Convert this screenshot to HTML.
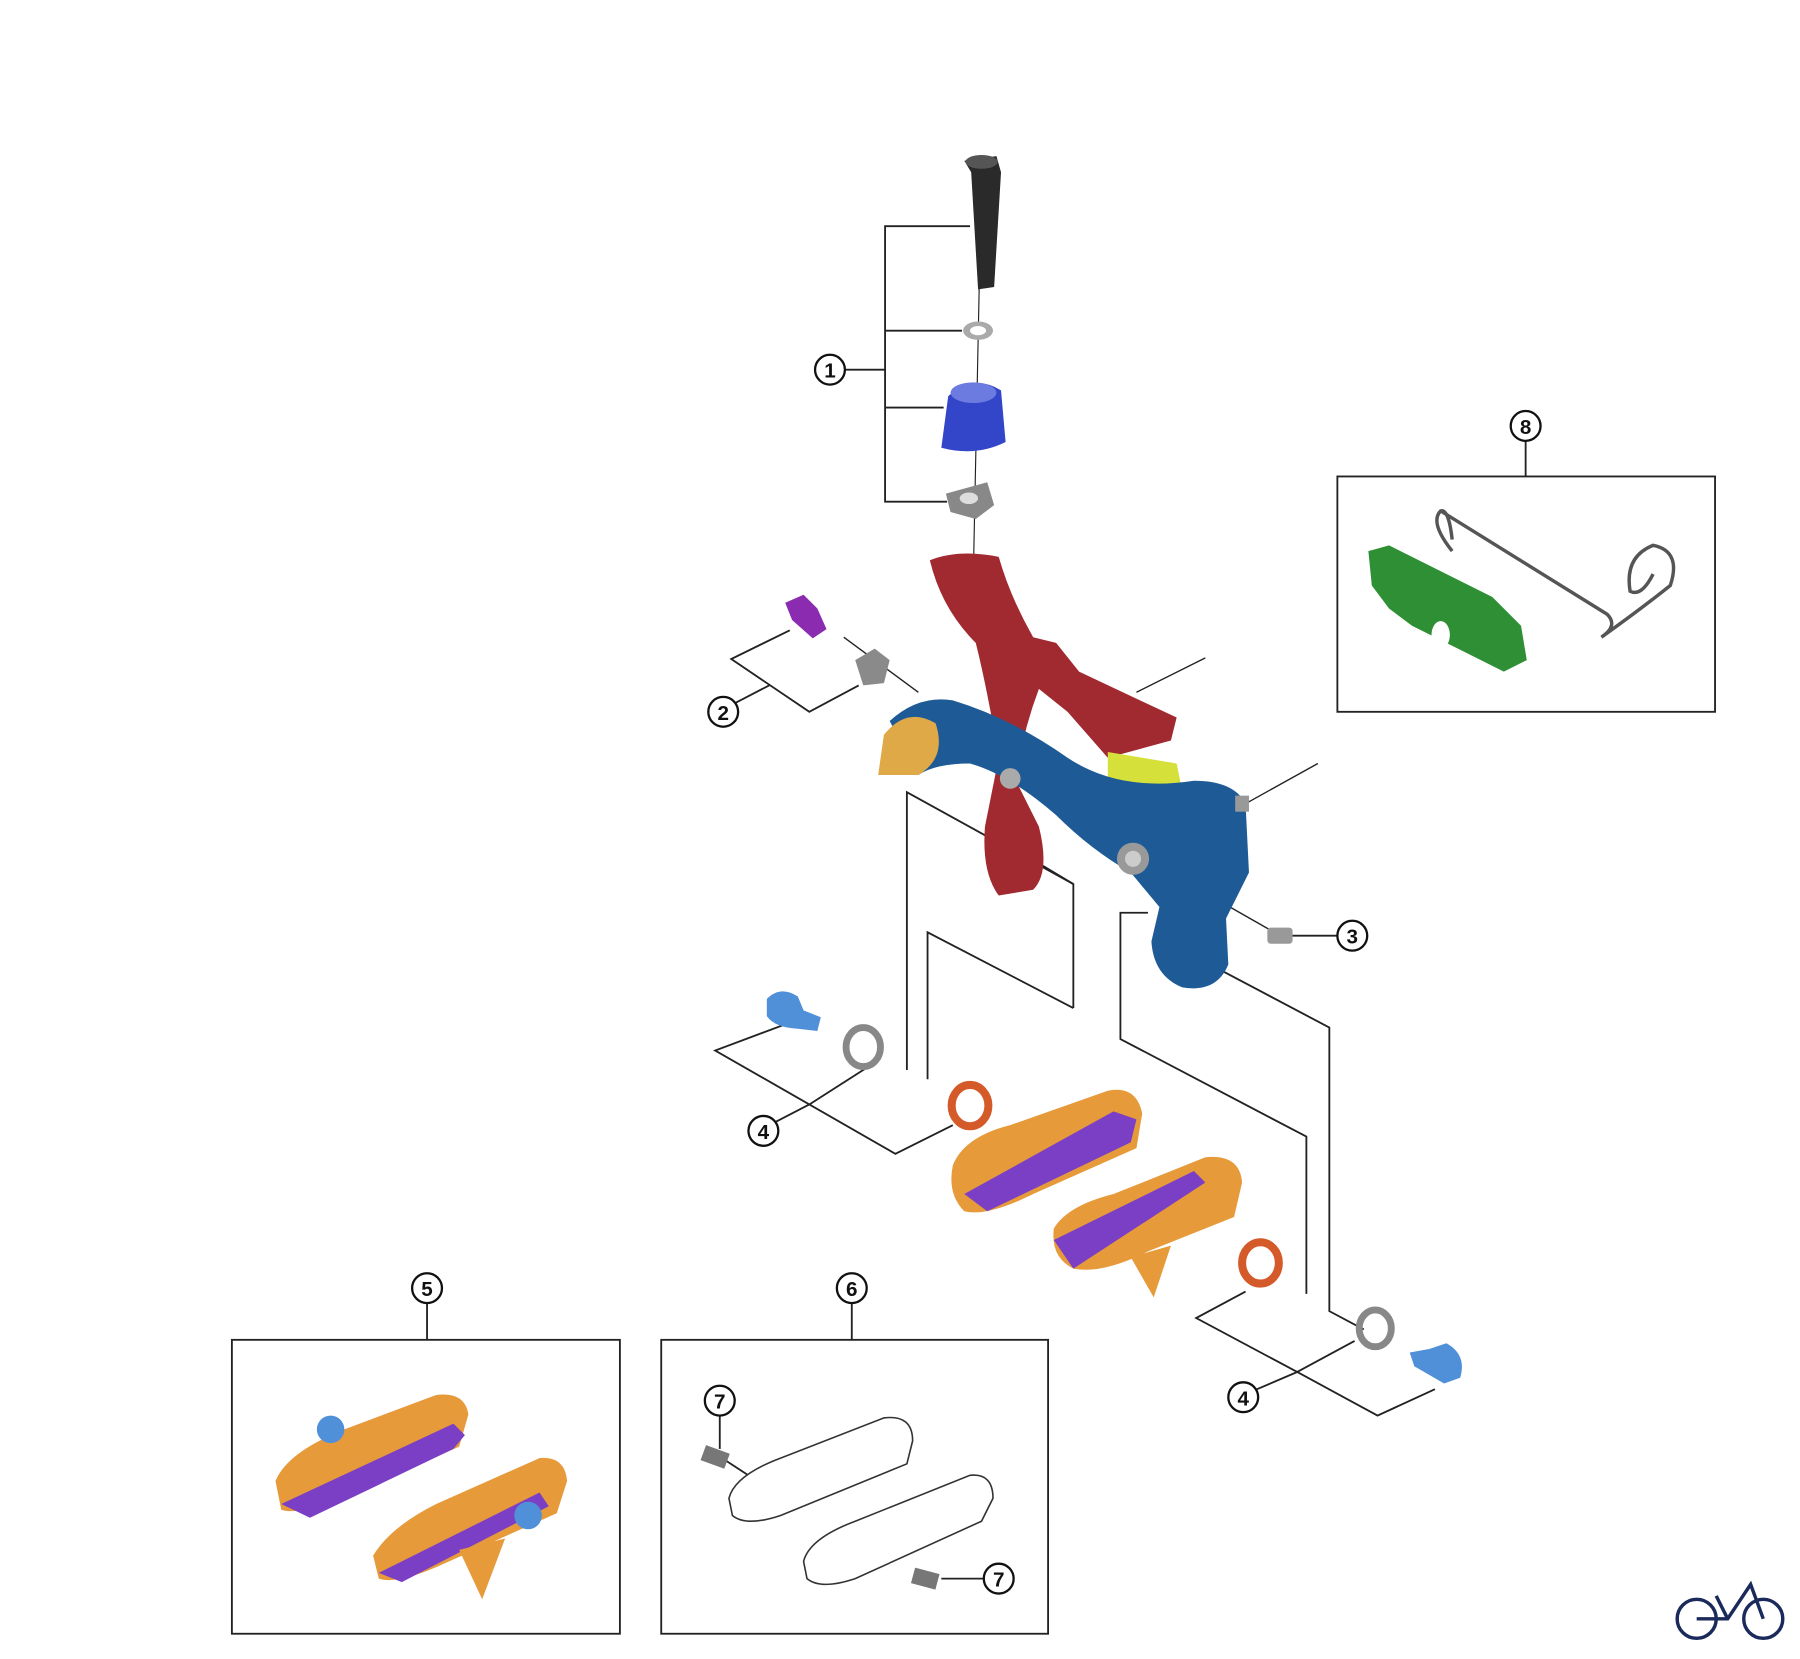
<!DOCTYPE html>
<html><head><meta charset="utf-8"><style>
html,body{margin:0;padding:0;background:#fff;}
svg{display:block;}
text{font-family:"Liberation Sans",sans-serif;font-weight:bold;}
</style></head><body>
<svg width="1800" height="1659" viewBox="0 0 1568 1445" preserveAspectRatio="none" xmlns="http://www.w3.org/2000/svg">
<rect width="1568" height="1445" fill="#fff"/>
<g fill="none" stroke="#222" stroke-width="1.6">
<!-- 1 bracket -->
<polyline points="845,197 771,197 771,437 825,437"/>
<line x1="771" y1="288" x2="838" y2="288"/>
<line x1="771" y1="355" x2="822" y2="355"/>
<line x1="736" y1="322" x2="771" y2="322"/>
<line x1="853" y1="250" x2="848" y2="495" stroke-width="1"/>
<!-- 2 bracket -->
<polyline points="688,549 637,574 705,620 748,597"/>
<line x1="641" y1="612" x2="670" y2="597"/>
<line x1="735" y1="555" x2="800" y2="603" stroke-width="1.2"/>
<!-- leader lines -->
<line x1="990" y1="603" x2="1050" y2="573" stroke-width="1.2"/>
<line x1="1085" y1="700" x2="1148" y2="665" stroke-width="1.2"/>
<!-- 3 -->
<line x1="1045" y1="775" x2="1110" y2="812" stroke-width="1.2"/>
<line x1="1125" y1="815" x2="1166" y2="815"/>
<!-- left connectors -->
<polyline points="790,932 790,690 935,770 935,878"/>
<polyline points="905,752 935,770"/>
<polyline points="935,878 808,812 808,940"/>
<!-- right connectors -->
<polyline points="1000,795 976,795 976,905 1138,990 1138,1127"/>
<polyline points="1035,830 1158,895 1158,1142 1188,1158"/>
<!-- 4 left -->
<polyline points="690,890 623,915 705,962 780,1005 830,980"/>
<line x1="705" y1="962" x2="755" y2="930"/>
<line x1="676" y1="977" x2="705" y2="962"/>
<!-- 4 right -->
<polyline points="1085,1125 1042,1148 1130,1195 1200,1233 1250,1210"/>
<line x1="1130" y1="1195" x2="1180" y2="1168"/>
<line x1="1095" y1="1210" x2="1130" y2="1195"/>
<!-- boxes -->
<rect x="1165" y="415" width="329" height="205"/>
<line x1="1329" y1="383" x2="1329" y2="415"/>
<rect x="202" y="1167" width="338" height="256"/>
<line x1="372" y1="1134" x2="372" y2="1167"/>
<rect x="576" y="1167" width="337" height="256"/>
<line x1="742" y1="1134" x2="742" y2="1167"/>
<line x1="627" y1="1232" x2="627" y2="1262"/>
<line x1="632" y1="1272" x2="655" y2="1287"/>
<line x1="820" y1="1375" x2="857" y2="1375"/>
</g>
<!-- part 1 -->
<polygon points="840,140 868,136 872,150 866,250 852,252 846,150" fill="#2a2a2a"/>
<ellipse cx="855" cy="141" rx="14" ry="6" fill="#555"/>
<ellipse cx="852" cy="288" rx="13" ry="8" fill="#aaa"/><ellipse cx="852" cy="288" rx="7" ry="4" fill="#fff"/>
<path d="M826,345 Q848,325 872,340 L876,385 Q850,398 820,390 Z" fill="#3345c8"/>
<ellipse cx="848" cy="342" rx="20" ry="9" fill="#6b7be0"/>
<path d="M824,430 L860,420 L866,440 L850,452 L828,446 Z" fill="#888"/><ellipse cx="844" cy="434" rx="8" ry="5" fill="#ddd"/>
<!-- red arm -->
<path d="M810,488 Q835,478 870,485 Q880,520 900,555 L920,560 L940,585 L1025,625 L1020,645 L965,660 L930,620 L905,600 Q890,640 885,680 L905,720 Q915,760 900,775 L870,780 Q855,760 858,720 L870,660 Q860,600 850,560 Q820,530 810,488 Z" fill="#a12a30"/>
<!-- yellow -->
<polygon points="965,655 1025,665 1030,690 985,700 965,690" fill="#d5e03a"/>
<!-- blue arm -->
<path d="M775,628 Q800,605 830,610 Q880,625 930,660 Q975,690 1040,680 Q1075,680 1085,700 L1088,760 L1068,800 L1070,840 Q1060,865 1030,860 Q1005,850 1003,820 L1010,790 L985,760 Q950,740 920,710 Q880,675 845,665 Q815,665 800,675 Z" fill="#1e5b96"/>
<path d="M770,640 Q790,615 815,630 Q825,660 800,675 Q780,675 765,675 Z" fill="#e0a947"/>
<circle cx="987" cy="748" r="14" fill="#999"/><circle cx="987" cy="748" r="7" fill="#ccc"/>
<circle cx="880" cy="678" r="9" fill="#aaa"/>
<rect x="1076" y="693" width="12" height="14" fill="#999"/>
<!-- 2 parts -->
<path d="M684,525 L700,518 L712,530 L720,548 L708,556 L690,540 Z" fill="#8a2bb0"/>
<polygon points="745,575 762,565 775,575 770,595 752,597" fill="#8a8a8a"/>
<!-- 3 pin -->
<rect x="1104" y="808" width="22" height="14" rx="3" fill="#999"/>
<!-- left 4 parts -->
<path d="M668,870 Q680,858 695,868 L700,880 L715,886 L712,898 L695,896 Q675,895 668,885 Z" fill="#4f90d8"/>
<ellipse cx="752" cy="912" rx="15" ry="17" fill="none" stroke="#888" stroke-width="6"/>
<ellipse cx="845" cy="963" rx="16" ry="18" fill="none" stroke="#d55a2a" stroke-width="7"/>
<!-- pads -->
<path d="M830,1015 Q840,990 880,980 L965,950 Q990,945 995,970 L990,1000 L900,1040 Q860,1060 840,1055 Q825,1040 830,1015 Z" fill="#e79a3a"/>
<path d="M840,1040 L970,968 L990,975 L985,995 L860,1055 Z" fill="#7a3fc4"/>
<path d="M918,1070 Q930,1050 970,1040 L1050,1008 Q1080,1005 1082,1030 L1075,1060 L1000,1090 Q960,1110 935,1105 Q915,1095 918,1070 Z" fill="#e79a3a"/>
<path d="M918,1080 L1040,1020 L1050,1030 L935,1105 Z" fill="#7a3fc4"/>
<polygon points="985,1095 1020,1085 1005,1130" fill="#e79a3a"/>
<ellipse cx="1098" cy="1100" rx="16" ry="18" fill="none" stroke="#d55a2a" stroke-width="7"/>
<ellipse cx="1198" cy="1157" rx="14" ry="16" fill="none" stroke="#888" stroke-width="6"/>
<path d="M1228,1178 L1245,1175 L1260,1170 Q1278,1180 1272,1200 L1258,1205 L1232,1190 Z" fill="#4f90d8"/>
<!-- box 8 -->
<path d="M1192,480 L1210,475 L1300,520 L1325,545 L1330,575 L1310,585 L1270,565 L1250,555 L1230,545 L1210,530 L1195,510 Z" fill="#2f8f35"/>
<ellipse cx="1255" cy="553" rx="8" ry="12" fill="#fff"/>
<path d="M1265,480 Q1245,455 1255,445 Q1262,443 1265,470 M1255,445 L1400,535 Q1410,545 1395,555 Q1430,530 1455,510 Q1465,480 1440,475 Q1415,485 1420,515 Q1430,520 1440,500" fill="none" stroke="#555" stroke-width="3"/>
<!-- box 5 pads -->
<path d="M240,1290 Q250,1265 300,1245 L380,1215 Q405,1212 408,1232 L400,1260 L300,1305 Q260,1320 245,1315 Z" fill="#e79a3a"/>
<path d="M245,1310 L395,1240 L405,1250 L395,1262 L270,1322 Z" fill="#7a3fc4"/>
<circle cx="288" cy="1245" r="12" fill="#4f90d8"/>
<path d="M325,1355 Q340,1330 380,1310 L470,1270 Q492,1268 494,1290 L485,1318 L380,1365 Q345,1380 330,1375 Z" fill="#e79a3a"/>
<path d="M330,1370 L470,1300 L478,1312 L350,1378 Z" fill="#7a3fc4"/>
<circle cx="460" cy="1320" r="12" fill="#4f90d8"/>
<polygon points="400,1350 440,1340 420,1393" fill="#e79a3a"/>
<!-- box 6 pads -->
<g fill="#fff" stroke="#333" stroke-width="1.4">
<path d="M635,1305 Q640,1285 680,1270 L770,1235 Q795,1232 795,1255 L790,1275 L680,1320 Q650,1330 638,1320 Z"/>
<path d="M700,1360 Q705,1340 745,1325 L845,1285 Q865,1283 865,1305 L855,1325 L745,1375 Q715,1385 703,1375 Z"/>
</g>
<rect x="612" y="1262" width="22" height="14" fill="#777" transform="rotate(20 623 1269)"/>
<rect x="795" y="1368" width="22" height="14" fill="#777" transform="rotate(15 806 1375)"/>
<!-- labels -->
<g fill="#fff" stroke="#111" stroke-width="2">
<circle cx="723" cy="322" r="13"/><circle cx="630" cy="620" r="13"/>
<circle cx="1178" cy="815" r="13"/><circle cx="665" cy="985" r="13"/>
<circle cx="1083" cy="1217" r="13"/><circle cx="1329" cy="371" r="13"/>
<circle cx="372" cy="1122" r="13"/><circle cx="742" cy="1122" r="13"/>
<circle cx="627" cy="1220" r="13"/><circle cx="870" cy="1375" r="13"/>
</g>
<g font-size="18" text-anchor="middle" fill="#111">
<text x="723" y="329">1</text><text x="630" y="627">2</text>
<text x="1178" y="822">3</text><text x="665" y="992">4</text>
<text x="1083" y="1224">4</text><text x="1329" y="378">8</text>
<text x="372" y="1129">5</text><text x="742" y="1129">6</text>
<text x="627" y="1227">7</text><text x="870" y="1382">7</text>
</g>
<!-- bike icon -->
<g fill="none" stroke="#1a2a5a" stroke-width="3">
<circle cx="1478" cy="1410" r="17"/><circle cx="1536" cy="1410" r="17"/>
<polyline points="1478,1410 1505,1410 1525,1380 1536,1410"/>
<polyline points="1495,1390 1505,1410"/>
</g>
</svg>
</body></html>
